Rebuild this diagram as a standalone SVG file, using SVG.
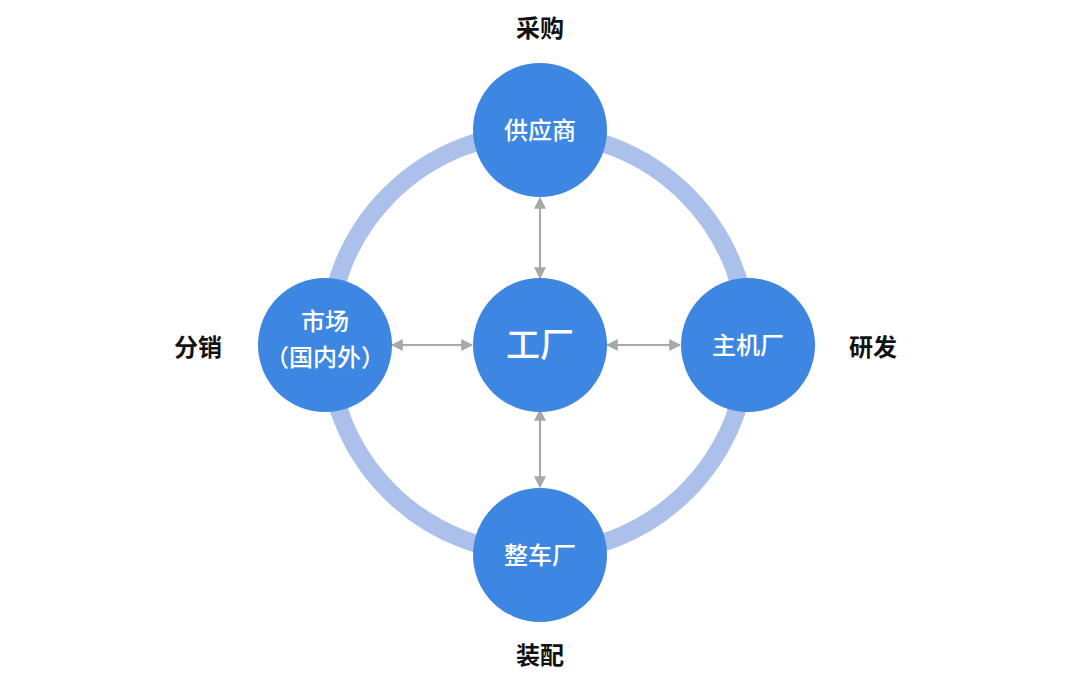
<svg xmlns="http://www.w3.org/2000/svg" width="1080" height="675" viewBox="0 0 1080 675">
<style>
.n{fill:#3d86e2}
.t{fill:#fff;font-family:"Noto Sans CJK SC","Liberation Sans",sans-serif;font-size:24px;text-anchor:middle;font-weight:500}
.l{fill:#111;font-family:"Noto Sans CJK SC","Liberation Sans",sans-serif;font-size:24px;text-anchor:middle;font-weight:bold}
.a{stroke:#a8a8a8;stroke-width:2;fill:none;marker-start:url(#m);marker-end:url(#m)}
</style>
<defs><marker id="m" viewBox="0 0 10 10" refX="9" refY="5" markerWidth="6" markerHeight="6" orient="auto-start-reverse"><path d="M0,0L10,5L0,10z" fill="#a8a8a8"/></marker></defs>
<rect width="1080" height="675" fill="#fff"/>
<circle cx="538" cy="343" r="210" fill="none" stroke="#abc0ea" stroke-width="18"/>
<g id="connectors">
<line class="a" x1="540" y1="198" x2="540" y2="278"/>
<line class="a" x1="540" y1="410" x2="540" y2="487"/>
<line class="a" x1="392" y1="345" x2="472" y2="345"/>
<line class="a" x1="607" y1="345" x2="680" y2="345"/>
</g>
<g id="supplier"><circle class="n" cx="540" cy="130" r="67"/><text class="t" x="540" y="139">供应商</text></g>
<g id="market"><circle class="n" cx="325" cy="345" r="67"/><text class="t" x="325" y="330">市场</text><text class="t" x="325" y="366">（国内外）</text></g>
<g id="factory"><circle class="n" cx="540" cy="345" r="67"/><text class="t" x="540" y="357" style="font-size:34px">工厂</text></g>
<g id="oem"><circle class="n" cx="748" cy="345" r="67"/><text class="t" x="748" y="354">主机厂</text></g>
<g id="assembly"><circle class="n" cx="540" cy="555" r="67"/><text class="t" x="540" y="564">整车厂</text></g>
<text class="l" x="540" y="37">采购</text>
<text class="l" x="198" y="356">分销</text>
<text class="l" x="873" y="356">研发</text>
<text class="l" x="540" y="664">装配</text>
</svg>
